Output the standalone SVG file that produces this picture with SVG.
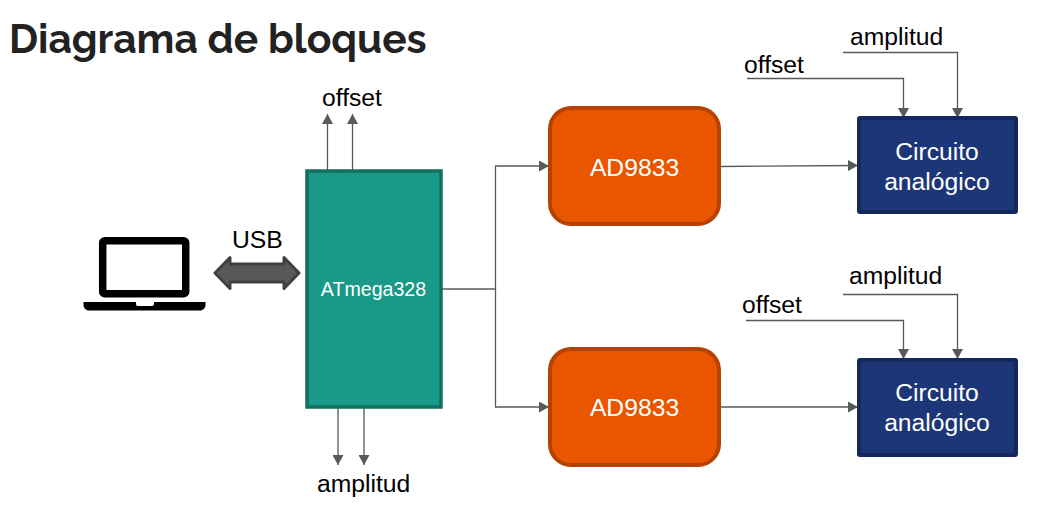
<svg xmlns="http://www.w3.org/2000/svg" width="1037" height="507" viewBox="0 0 1037 507">
<style>
text{font-family:"Liberation Sans",Arial,sans-serif;font-size:24.700px;fill:#000}
.w{fill:#fff;text-anchor:middle}
.t{font-family:Raleway,"Open Sans","Noto Sans",sans-serif;font-weight:700;font-size:40.700px;fill:#222}
.o{fill:#ea5600;stroke:#b54200;stroke-width:4}
.b{fill:#1d3677;stroke:#14285c;stroke-width:4}
.c{fill:none;stroke:#595959;stroke-width:1.3;marker-end:url(#a)}
</style>
<defs><marker id="a" markerUnits="userSpaceOnUse" markerWidth="11" markerHeight="11" refX="10" refY="5.500" orient="auto"><path d="M0 0L10 5.500L0 11Z" fill="#595959"/></marker></defs>
<rect width="1037" height="507" fill="#fff"/>
<text class="t" x="9" y="53">Diagrama de bloques</text>
<g id="connectors">
<path class="c" d="M327.500 170V114"/>
<path class="c" d="M352.500 170V114"/>
<path class="c" d="M338 408V465"/>
<path class="c" d="M364 408V465"/>
<path class="c" d="M442 289H495.500V166H549"/>
<path class="c" d="M495.500 289V407H549"/>
<path class="c" d="M720 166.500L858 165.500"/>
<path class="c" d="M720 407H858"/>
<path class="c" d="M747 78.500H903.500V118"/>
<path class="c" d="M843 52.500H957.500V118"/>
<path class="c" d="M746 320.500H903.500V359"/>
<path class="c" d="M843 294.500H957.500V359"/>
<path d="M215 273L230 257.500V264H284V257.500L299 273L284 288.500V282H230V288.500Z" fill="#595959" stroke="#404040" stroke-width="3" stroke-linejoin="round"/>
</g>
<g id="laptop">
<rect x="102.700" y="240.700" width="83" height="53" rx="2" fill="#fff" stroke="#000" stroke-width="7.500"/>
<path d="M83.500 302H136V304C136 305.500 137 306 138 306H151C153 306 154 305.500 154 304V302H205.500V305C205.500 308 203 310.500 200 310.500H89C86 310.500 83.500 308 83.500 305Z" fill="#000"/>
</g>
<text x="232" y="248">USB</text>
<text x="322" y="106">offset</text>
<text x="317" y="492">amplitud</text>
<g id="atmega">
<rect x="307" y="171" width="134" height="236" fill="#1a9988" stroke="#12705f" stroke-width="3.500"/>
<text class="w" x="373.500" y="296" style="font-size:19.600px">ATmega328</text>
</g>
<g id="ad9833-1">
<rect class="o" x="550" y="108" width="169" height="116" rx="21"/>
<text class="w" x="634.500" y="176">AD9833</text>
</g>
<g id="ad9833-2">
<rect class="o" x="550" y="349" width="169" height="116" rx="21"/>
<text class="w" x="634.500" y="416">AD9833</text>
</g>
<g id="circuito-1">
<rect class="b" x="859" y="118" width="157" height="94" rx="1"/>
<text class="w" x="937" y="160">Circuito</text>
<text class="w" x="937" y="190">analógico</text>
</g>
<g id="circuito-2">
<rect class="b" x="859" y="360" width="157" height="95" rx="1"/>
<text class="w" x="937" y="401">Circuito</text>
<text class="w" x="937" y="431">analógico</text>
</g>
<text x="850" y="45">amplitud</text>
<text x="744" y="73">offset</text>
<text x="849" y="284">amplitud</text>
<text x="742" y="313">offset</text>
</svg>
